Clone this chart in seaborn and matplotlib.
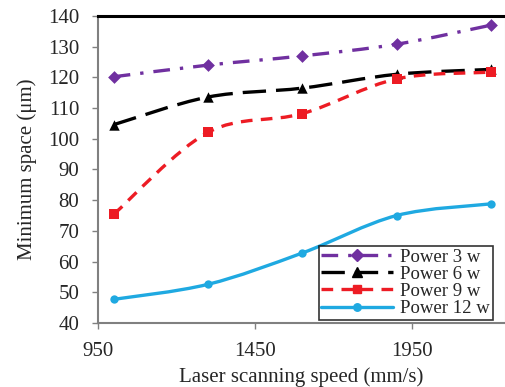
import numpy as np
import matplotlib
matplotlib.use("Agg")
import matplotlib.pyplot as plt
from matplotlib.path import Path
from matplotlib.patches import PathPatch
from matplotlib.lines import Line2D
import seaborn as sns
import pandas as pd

# data
speed = [1000, 1300, 1600, 1900, 2200]
power_3w = [120.2, 124.0, 127.0, 130.8, 137.0]
power_6w = [104.6, 113.6, 116.5, 121.0, 122.6]
power_9w = [75.4, 102.1, 108.2, 119.5, 121.7]
power_12w = [47.7, 52.6, 62.8, 75.0, 78.8]
series_names = ["Power 3 w", "Power 6 w", "Power 9 w", "Power 12 w"]
x_ticks = [950, 1450, 1950]
y_ticks = [40, 50, 60, 70, 80, 90, 100, 110, 120, 130, 140]

df = pd.DataFrame({
    "speed": speed * 4,
    "space": power_3w + power_6w + power_9w + power_12w,
    "series": [n for n in series_names for _ in speed],
})

styles = {
    "Power 3 w": dict(color="#7030A0", ls=(0, (5, 3, 1, 3)), marker="D", ms=6.5),
    "Power 6 w": dict(color="black", ls=(0, (7, 3)), marker="^", ms=7.5),
    "Power 9 w": dict(color="#ED1C24", ls=(0, (3.5, 2.5)), marker="s", ms=6.5),
    "Power 12 w": dict(color="#1FA9E1", ls="-", marker="o", ms=6),
}

sns.set_style("white")
plt.rcParams["font.family"] = ["Liberation Serif", "DejaVu Serif"]
plt.rcParams["font.size"] = 15

fig = plt.figure(figsize=(5.06, 3.87), dpi=100)
ax = fig.add_axes([0.1937, 0.1654, 0.8043, 0.7933])


def smooth_path(xs, ys):
    # Excel-style smoothed line: cubic bezier through each point
    pts = np.column_stack([xs, ys]).astype(float)
    verts = [pts[0]]
    codes = [Path.MOVETO]
    n = len(pts)
    for i in range(n - 1):
        p0 = pts[i - 1] if i > 0 else pts[i]
        p1, p2 = pts[i], pts[i + 1]
        p3 = pts[i + 2] if i + 2 < n else pts[i + 1]
        c1 = p1 + (p2 - p0) / 6.0
        c2 = p2 - (p3 - p1) / 6.0
        verts += [c1, c2, p2]
        codes += [Path.CURVE4] * 3
    return Path(verts, codes)


handles = []
for name in series_names:
    st = styles[name]
    sub = df[df["series"] == name]
    patch = PathPatch(smooth_path(sub["speed"], sub["space"]), fill=False,
                      edgecolor=st["color"], lw=2.4, linestyle=st["ls"],
                      capstyle="butt", zorder=2)
    ax.add_patch(patch)
    sns.scatterplot(data=sub, x="speed", y="space", ax=ax, color=st["color"],
                    marker=st["marker"], s=st["ms"] ** 2, edgecolor=st["color"],
                    linewidth=0, zorder=3, legend=False)
    handles.append(Line2D([], [], color=st["color"], lw=2.4, ls=st["ls"],
                          marker=st["marker"], ms=st["ms"] * 0.9, label=name))

ax.set_xlim(950, 2245)
ax.set_ylim(40, 140)
ax.set_xticks(x_ticks)
ax.set_yticks(y_ticks)
ax.set_xlabel("Laser scanning speed (mm/s)", fontsize=15, labelpad=4.5)
ax.set_ylabel("Minimum space (\u03bcm)", fontsize=15, labelpad=8)
ax.tick_params(axis="both", direction="out", length=4, width=1, color="#808080",
               labelsize=15, pad=9.5, left=True, bottom=True)

for side in ["left", "bottom"]:
    ax.spines[side].set_color("#808080")
    ax.spines[side].set_linewidth(1.5)
ax.spines["top"].set_color("black")
ax.spines["top"].set_linewidth(2.2)
ax.spines["right"].set_color("#d0d0d0")
ax.spines["right"].set_linewidth(0.8)

leg = ax.legend(handles=handles, loc="lower right", bbox_to_anchor=(0.97, 0.01),
                frameon=True, fancybox=False, edgecolor="black", fontsize=13.5,
                handlelength=3.8, handletextpad=0.4, labelspacing=0.0,
                borderpad=0.15, borderaxespad=0)
leg.get_frame().set_linewidth(1.2)

fig.savefig("out.png", dpi=100)
